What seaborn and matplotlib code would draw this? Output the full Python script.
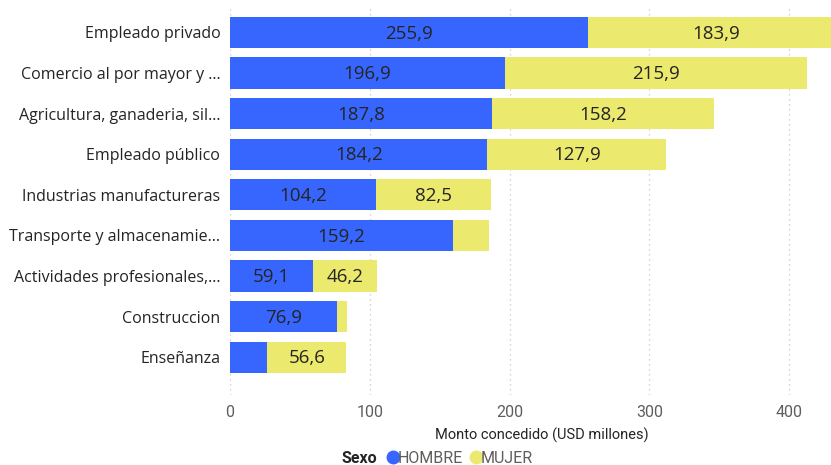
import matplotlib
matplotlib.use("Agg")
import matplotlib.pyplot as plt
from matplotlib.lines import Line2D
import seaborn as sns
import pandas as pd

categorias = [
    "Empleado privado",
    "Comercio al por mayor y ...",
    "Agricultura, ganaderia, sil...",
    "Empleado público",
    "Industrias manufactureras",
    "Transporte y almacenamie...",
    "Actividades profesionales,...",
    "Construccion",
    "Enseñanza",
]
hombre = [255.9, 196.9, 187.8, 184.2, 104.2, 159.2, 59.1, 76.9, 26.7]
mujer = [183.9, 215.9, 158.2, 127.9, 82.5, 26.3, 46.2, 6.5, 56.6]
ticks_x = [0, 100, 200, 300, 400]

AZUL = "#3766FF"
AMARILLO = "#EBE96E"
TEXTO = "#252423"
GRIS = "#605E5C"

df = pd.DataFrame({"categoria": categorias, "HOMBRE": hombre, "MUJER": mujer})
df["total"] = df["HOMBRE"] + df["MUJER"]

sns.set_theme(style="white")
plt.rcParams["font.family"] = ["Open Sans", "DejaVu Sans"]

fig = plt.figure(figsize=(8.31, 4.65), dpi=100)
ax = fig.add_axes([230 / 831, 1 - 395 / 465, 1 - 230 / 831, 387 / 465])

# stacked bars: full total in yellow, male share drawn on top in blue
sns.barplot(data=df, x="total", y="categoria", color=AMARILLO, saturation=1,
            width=0.77, ax=ax, orient="h", edgecolor="none")
sns.barplot(data=df, x="HOMBRE", y="categoria", color=AZUL, saturation=1,
            width=0.77, ax=ax, orient="h", edgecolor="none")

for i, (h, m) in enumerate(zip(hombre, mujer)):
    if h >= 40:
        ax.text(h / 2, i + 0.03, f"{h:.1f}".replace(".", ","), ha="center",
                va="center", fontsize=13.5, color=TEXTO)
    if m >= 40:
        ax.text(h + m / 2, i + 0.03, f"{m:.1f}".replace(".", ","), ha="center",
                va="center", fontsize=13.5, color=TEXTO)

ax.set_xlim(0, 430)
ax.set_ylim(8.93, -0.6)
ax.set_xticks(ticks_x)
ax.set_xticklabels([str(t) for t in ticks_x], fontsize=11.5, color=GRIS,
                   family=["Roboto", "DejaVu Sans"])
ax.tick_params(axis="x", length=0, pad=7)
ax.tick_params(axis="y", length=0, pad=7, labelsize=11.5, labelcolor=TEXTO)
ax.xaxis.grid(True, linestyle=(0, (1, 3)), color="#C8C6C4", linewidth=0.9)
ax.yaxis.grid(False)
ax.set_axisbelow(True)
for s in ax.spines.values():
    s.set_visible(False)
ax.set_ylabel("")
ax.set_xlabel("Monto concedido (USD millones)", fontsize=10.5, color=TEXTO,
              family=["Roboto", "DejaVu Sans"], labelpad=4)
ax.xaxis.set_label_coords((542 - 230) / 601, -0.085)

# legend row under the axis title
fig.text(341 / 831, 1 - 458 / 465, "Sexo", fontsize=11.5, fontweight="bold",
         color=TEXTO, va="center", ha="left", family=["Roboto", "DejaVu Sans"])
handles = [
    Line2D([], [], marker="o", linestyle="", markersize=9, color=AZUL),
    Line2D([], [], marker="o", linestyle="", markersize=9, color=AMARILLO),
]
fig.legend(handles, ["HOMBRE", "MUJER"], loc="center left",
           bbox_to_anchor=(377 / 831, 1 - 458 / 465), ncol=2, frameon=False,
           handletextpad=-0.2, columnspacing=0.3, handlelength=1.0,
           borderpad=0, prop={"family": ["Roboto", "DejaVu Sans"], "size": 11.5},
           labelcolor=GRIS)

fig.savefig("out.png", dpi=100)
